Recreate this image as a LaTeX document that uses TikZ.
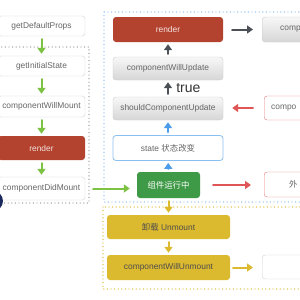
\documentclass[tikz,border=0pt]{standalone}
\usepackage{fontspec}
\setmainfont{Liberation Sans}
\newfontfamily\cjk{Noto Sans CJK SC}
\usepackage{xcolor}
\usetikzlibrary{arrows.meta}

\definecolor{brick}{HTML}{B3432F}
\definecolor{leaf}{HTML}{3F9A48}
\definecolor{mustard}{HTML}{DCBA30}
\definecolor{navy}{HTML}{1B2A5C}
\definecolor{arrgreen}{HTML}{7DC243}
\definecolor{arrred}{HTML}{E05656}
\definecolor{arrblue}{HTML}{4C9CEA}
\definecolor{arrdark}{HTML}{4B5056}
\definecolor{txtgray}{HTML}{666666}

\tikzset{
  box/.style={rounded corners=3pt, inner sep=0pt, text=txtgray,
    font=\fontsize{8.4}{9}\selectfont},
  whitebox/.style={box, draw=gray!35, fill=white},
  graybox/.style={box, draw=gray!40, top color=gray!6, bottom color=gray!32},
  redbox/.style={box, fill=brick, text=white!85!brick},
  yellowbox/.style={box, fill=mustard, text=black!70},
  flow/.style={line width=2pt, -{Triangle[length=6pt,width=8pt]},
    shorten <=3pt, shorten >=2pt},
  frame/.style={line width=1.4pt, dash pattern=on 0pt off 3.6pt},
}

\begin{document}
\begin{tikzpicture}[x=1pt, y=-1pt, line cap=round]
  \useasboundingbox (0,0) rectangle (300,300);
  \clip (0,0) rectangle (300,300);
  \fill[white] (0,0) rectangle (300,300);

  % frames
  \draw[frame, gray!80] (-5,47) rectangle (89,203);
  \draw[frame, arrblue!65] (104,12) rectangle (330,202);
  \draw[frame, mustard] (103,207) rectangle (330,289);

  % left column
  \foreach \name/\y/\h/\txt in {defprops/26/20/getDefaultProps,
      initstate/66/20/getInitialState, willmount/106.5/21/componentWillMount,
      didmount/188.5/23/componentDidMount}
    \node[whitebox, minimum width=87pt, minimum height=\h pt] (\name) at (41.5,\y) {\txt};
  \node[redbox, minimum width=87pt, minimum height=24pt] (renderA) at (41.5,148) {render};

  \fill[navy] (-7,201) circle (10pt);

  % update column
  \node[redbox, minimum width=110pt, minimum height=25pt] (renderB) at (168,29.5) {render};
  \node[graybox, minimum width=110pt, minimum height=23pt] (willupdate) at (168,68.5) {componentWillUpdate};
  \node[graybox, minimum width=110pt, minimum height=23pt] (shouldupdate) at (168,108.5) {shouldComponentUpdate};
  \node[whitebox, draw=arrblue!65, line width=0.8pt, minimum width=110pt, minimum height=25pt] (statechg) at (168,148)
    {state {\cjk 状态改变}};
  \node[box, fill=leaf, text=white, minimum width=63pt, minimum height=26pt] (running) at (168.5,185)
    {\cjk 组件运行中};

  % unmount column
  \node[yellowbox, minimum width=123pt, minimum height=24pt] (unmount) at (168.5,227) {{\cjk 卸载} Unmount};
  \node[yellowbox, minimum width=123pt, minimum height=25pt] (willunmount) at (168.5,267.5) {componentWillUnmount};

  % right column
  \node[graybox, anchor=west, minimum height=25pt, text width=50pt, align=left, inner xsep=18pt]
    (didupdate) at (262,29.5) {comp};
  \node[whitebox, draw=arrred!80, anchor=west, minimum height=24pt, text width=50pt, align=left, inner xsep=7pt]
    (receiveprops) at (264,108) {compo};
  \node[whitebox, draw=arrred!80, anchor=west, minimum height=25pt, text width=50pt, align=left, inner xsep=25pt]
    (outside) at (264,184.5) {\cjk 外};
  \node[whitebox, anchor=west, minimum width=60pt, minimum height=24pt] (blank) at (262,267) {};

  % connectors
  \foreach \a/\b in {defprops/initstate, initstate/willmount, willmount/renderA, renderA/didmount}
    \draw[flow, arrgreen] (\a) -- (\b);
  \draw[flow, arrgreen, shorten <=8pt, shorten >=7pt] (didmount.east) -- (didmount.east -| running.west);
  \draw[flow, arrred, shorten <=13pt, shorten >=13pt] (running.east) -- (running.east -| outside.west);

  \draw[flow, arrblue] (running) -- (statechg);
  \draw[flow, arrblue] (statechg) -- (shouldupdate);
  \draw[flow, arrdark] (shouldupdate) -- node[right=4pt, text=black!80, font=\fontsize{14}{14}\selectfont] (truelbl) {true} (willupdate);
  \draw[flow, arrdark] (willupdate) -- (renderB);
  \draw[flow, arrdark, shorten <=9pt, shorten >=9pt] (renderB.east) -- (renderB.east -| didupdate.west);
  \draw[flow, arrred, shorten <=11pt, shorten >=9pt] (receiveprops.west) -- (receiveprops.west -| shouldupdate.east);

  \draw[flow, mustard] (running) -- (unmount);
  \draw[flow, mustard] (unmount) -- (willunmount);
  \draw[flow, mustard, shorten <=3pt, shorten >=9pt] (willunmount.east) -- (willunmount.east -| blank.west);
\end{tikzpicture}
\end{document}
